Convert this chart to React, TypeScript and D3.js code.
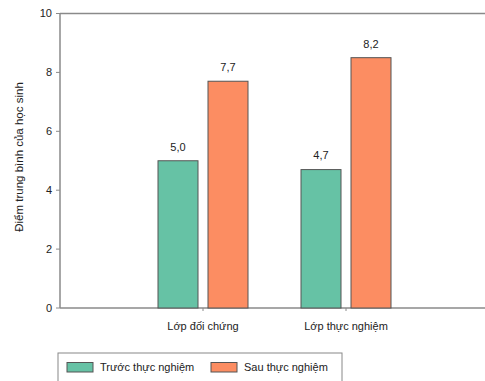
import React from "react";
import * as d3 from "d3";

const categories = ["Lớp đối chứng", "Lớp thực nghiệm"];
const seriesNames = ["Trước thực nghiệm", "Sau thực nghiệm"];
const beforeValues = [5.0, 4.7];
const afterValues = [7.7, 8.5];
const beforeLabels = ["5,0", "4,7"];
const afterLabels = ["7,7", "8,2"];
const yTicks = [0, 2, 4, 6, 8, 10];
const colors = ["#66c2a5", "#fc8d62"];

const W = 485;
const H = 381;
const margin = { left: 60, right: -4, top: 13.5, bottom: 73 };
const font = "'Liberation Sans', Arial, sans-serif";

export default function App() {
  const x0 = margin.left;
  const x1 = W - margin.right;
  const y0 = H - margin.bottom;
  const y1 = margin.top;
  const y = d3.scaleLinear().domain([0, 10]).range([y0, y1]);
  const x = d3.scaleLinear().domain([0, 3]).range([x0, x1]);
  const barW = 40;
  const gap = 10;
  const series = [
    { values: beforeValues, labels: beforeLabels, offset: -(barW + gap / 2) },
    { values: afterValues, labels: afterLabels, offset: gap / 2 },
  ];
  const axisColor = "#8a8a8a";
  return (
    <svg
      width={W}
      height={H}
      style={{ position: "absolute", left: 0, top: 0, background: "#fff" }}
      fontFamily={font}
    >
      <line x1={x0} x2={x1} y1={y1} y2={y1} stroke={axisColor} strokeWidth={1.5} />
      <line x1={x0} x2={x1} y1={y0} y2={y0} stroke={axisColor} strokeWidth={1.5} />
      <line x1={x0} x2={x0} y1={y1} y2={y0} stroke={axisColor} strokeWidth={1.5} />
      {yTicks.map((t) => (
        <g key={t}>
          <line x1={x0 - 4} x2={x0} y1={y(t)} y2={y(t)} stroke={axisColor} strokeWidth={1} />
          <text x={x0 - 8} y={y(t)} dy="0.35em" textAnchor="end" fontSize={11} fill="#222">
            {t}
          </text>
        </g>
      ))}
      {categories.map((c, i) => (
        <g key={c}>
          <line x1={x(i + 1)} x2={x(i + 1)} y1={y0} y2={y0 + 3} stroke={axisColor} strokeWidth={1} />
          <text x={x(i + 1)} y={y0 + 18} dy="0.35em" textAnchor="middle" fontSize={11} fill="#222">
            {c}
          </text>
        </g>
      ))}
      {series.map((s, si) =>
        s.values.map((v, i) => {
          const bx = x(i + 1) + s.offset;
          return (
            <g key={si + "-" + i}>
              <rect
                x={bx}
                y={y(v)}
                width={barW}
                height={y0 - y(v)}
                fill={colors[si]}
                stroke="#555"
                strokeWidth={1}
              />
              <text
                x={bx + barW / 2}
                y={y(v) - 14}
                dy="0.35em"
                textAnchor="middle"
                fontSize={11}
                fill="#222"
              >
                {s.labels[i]}
              </text>
            </g>
          );
        })
      )}
      <text
        transform={`translate(19,157) rotate(-90)`}
        textAnchor="middle"
        dy="0.35em"
        fontSize={11.5}
        fill="#222"
      >
        Điểm trung bình của học sinh
      </text>
      <rect x={58} y={353} width={284} height={40} fill="#fff" stroke="#888" strokeWidth={1} />
      {seriesNames.map((n, i) => {
        const lx = i === 0 ? 67 : 211;
        return (
          <g key={n}>
            <rect x={lx} y={362.5} width={26} height={9.5} fill={colors[i]} stroke="#555" strokeWidth={1} />
            <text x={lx + 33} y={367.5} dy="0.35em" fontSize={11} fill="#222">
              {n}
            </text>
          </g>
        );
      })}
    </svg>
  );
}
